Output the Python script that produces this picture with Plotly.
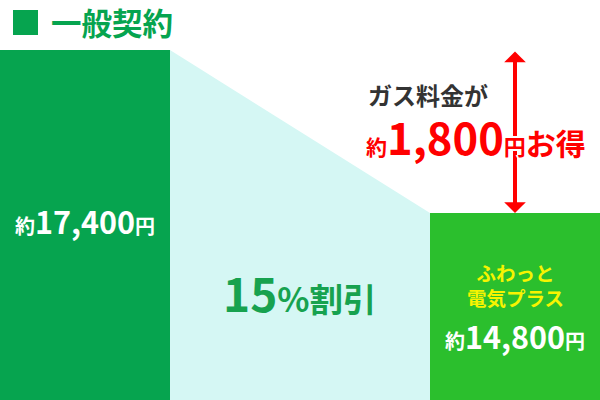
import plotly.graph_objects as go

# 料金データ（円）
plans = ['一般契約', 'ふわっと<br>電気プラス']
prices = [17400, 14800]
bar_colors = ['#06a44f', '#2bbf2d']
saving = 1800
discount = '15%'

FONT = 'Noto Sans CJK JP'
W, H = 600, 400

# 棒の幅と縦軸の範囲（左の棒の上端 50px、右の棒の上端 213px になるように）
bw = 170 / 430
k = (213 - 50) / (prices[0] - prices[1])
ymin = prices[1] - (H - 213) / k
ymax = prices[0] + 50 / k

fig = go.Figure()

# 割引を表す台形
fig.add_trace(go.Scatter(
    x=[bw / 2, 1 - bw / 2, 1 - bw / 2, bw / 2],
    y=[prices[0], prices[1], ymin, ymin],
    fill='toself', fillcolor='#d5f7f4', mode='lines',
    line=dict(width=0), hoverinfo='skip', showlegend=False,
))

fig.add_trace(go.Bar(
    x=[0, 1], y=prices, width=bw, marker=dict(color=bar_colors, line=dict(width=0)),
    hoverinfo='skip', showlegend=False,
))

# 両矢印
fig.add_annotation(
    x=1, y=prices[1], ax=1, ay=prices[0], xref='x', yref='y', axref='x', ayref='y',
    text='', showarrow=True, arrowside='end+start',
    arrowhead=1, startarrowhead=1, arrowsize=0.9, startarrowsize=0.9,
    arrowwidth=4, arrowcolor='#ff0000', standoff=0, startstandoff=0,
)


def yen(v, big, small):
    return (f"<span style='font-size:{small}px'>約</span>"
            f"<span style='font-size:{big}px'>{v:,}</span>"
            f"<span style='font-size:{small}px'>円</span>")


def label(text, x, py, size, color, xref='paper', xanchor='center', **kw):
    fig.add_annotation(x=x, y=1 - py / H, xref=xref, yref='paper',
                       xanchor=xanchor, yanchor='middle', showarrow=False, text=text,
                       font=dict(family=FONT, size=size, color=color, weight=700, **kw))


# 見出し
fig.add_shape(type='rect', xref='paper', yref='paper',
              x0=13 / W, x1=38 / W, y0=1 - 35 / H, y1=1 - 10 / H,
              fillcolor='#06a44f', line=dict(width=0))
label(plans[0], 49 / W, 22, 30.5, '#06a44f', xanchor='left')

# 左の棒のラベル
label(yen(prices[0], 30.5, 20), 0, 221, 30.5, 'white', xref='x')

# 割引率
label(f"<span style='font-size:46px'>{discount[:-1]}</span>"
      f"<span style='font-size:33.5px'>{discount[-1]}割引</span>",
      0.5, 292, 46, '#17a24f')

# お得額
label('ガス料金が', 366 / W, 94, 24, '#333333', xanchor='left')
label(f"<span style='font-size:21px'>約</span>"
      f"<span style='font-size:43.5px'>{saving:,}</span>"
      f"<span style='font-size:22px'>円</span>"
      f"<span style='font-size:30px'>お得</span>",
      364 / W, 136, 43.5, '#ff0000', xanchor='left',
      shadow='2px 0 0 #fff, -2px 0 0 #fff, 0 2px 0 #fff, 0 -2px 0 #fff')

# 右の棒のラベル
label(plans[1], 1, 285, 19.5, '#f7f400', xref='x')
label(yen(prices[1], 30.5, 20), 1, 336, 30.5, 'white', xref='x')

fig.update_xaxes(range=[-bw / 2, 1 + bw / 2], visible=False, fixedrange=True)
fig.update_yaxes(range=[ymin, ymax], visible=False, fixedrange=True)
fig.update_layout(
    width=W, height=H, margin=dict(l=0, r=0, t=0, b=0),
    paper_bgcolor='white', plot_bgcolor='white', bargap=0,
)

fig.write_html('out.html', config={'displayModeBar': False},
               post_script="document.body.style.margin='0';")
